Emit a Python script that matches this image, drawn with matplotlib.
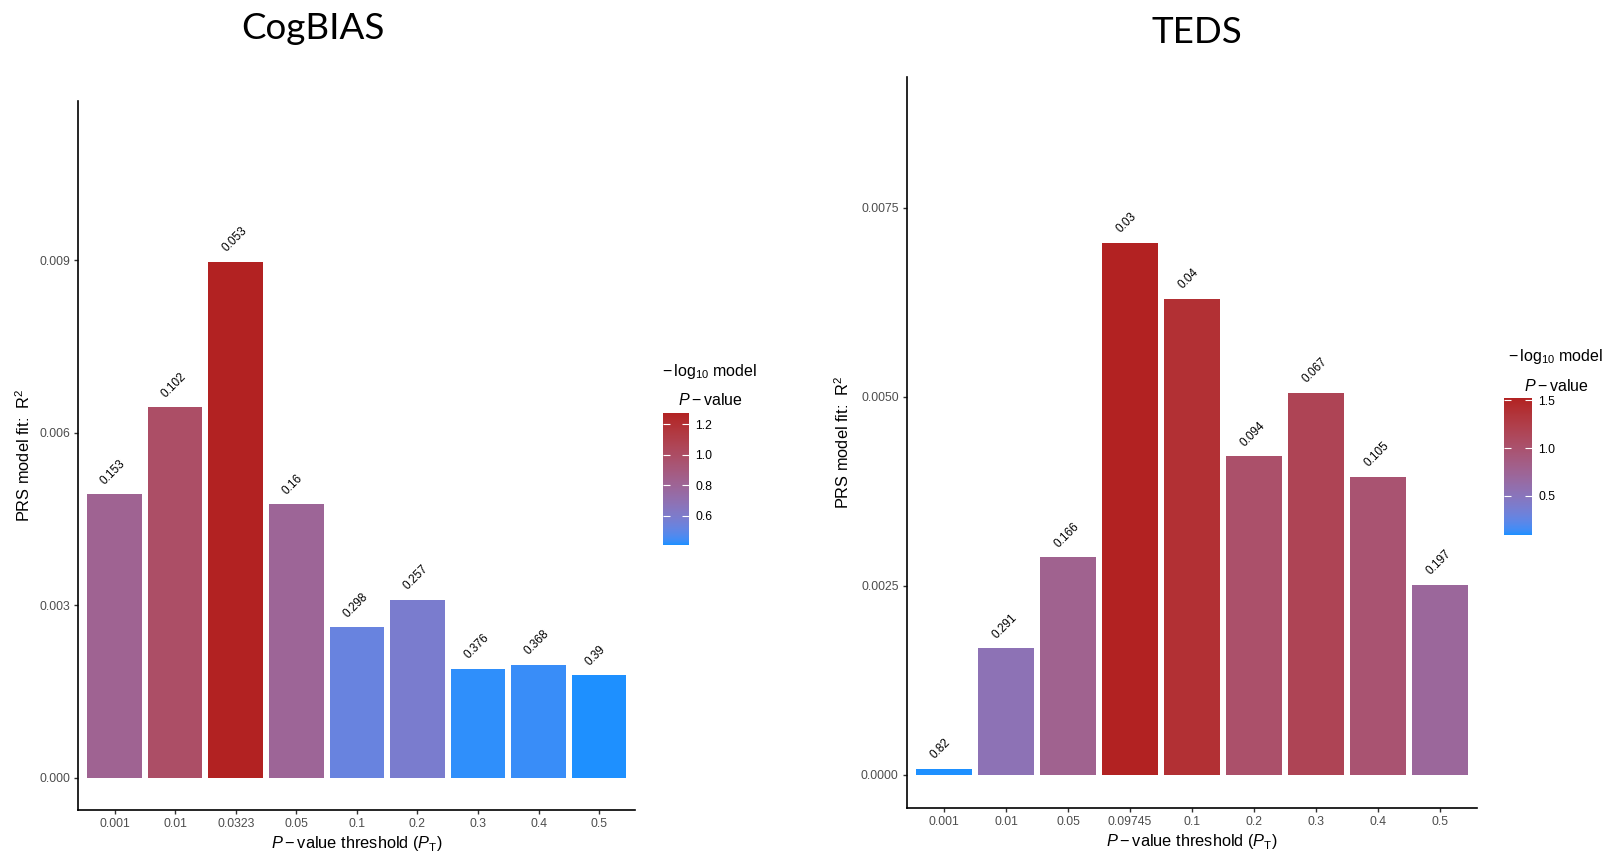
import numpy as np
import matplotlib
matplotlib.use("Agg")
import matplotlib.pyplot as plt
from matplotlib.colors import ListedColormap, Normalize, to_rgb
from matplotlib.cm import ScalarMappable
from matplotlib.ticker import FormatStrFormatter, FixedLocator

plt.rcParams['font.family'] = ['Liberation Sans', 'DejaVu Sans']
plt.rcParams['mathtext.fontset'] = 'custom'
plt.rcParams['mathtext.rm'] = 'Liberation Sans'
plt.rcParams['mathtext.it'] = 'Liberation Sans:italic'
plt.rcParams['mathtext.bf'] = 'Liberation Sans:bold'

# ---- data -------------------------------------------------------------
cog_thresholds = ["0.001", "0.01", "0.0323", "0.05", "0.1", "0.2", "0.3", "0.4", "0.5"]
cog_r2 = [0.004925, 0.006438, 0.008971, 0.004751, 0.002612, 0.003093, 0.001893, 0.001957, 0.001777]
cog_p = [0.153, 0.102, 0.053, 0.16, 0.298, 0.257, 0.376, 0.368, 0.39]

teds_thresholds = ["0.001", "0.01", "0.05", "0.09745", "0.1", "0.2", "0.3", "0.4", "0.5"]
teds_r2 = [0.00008, 0.001672, 0.002879, 0.007037, 0.006297, 0.004214, 0.005051, 0.003945, 0.00251]
teds_p = [0.82, 0.291, 0.166, 0.03, 0.04, 0.094, 0.067, 0.105, 0.197]

cog_yticks = [0.0, 0.003, 0.006, 0.009]
teds_yticks = [0.0, 0.0025, 0.005, 0.0075]
cog_cbar_ticks = [0.6, 0.8, 1.0, 1.2]
teds_cbar_ticks = [0.5, 1.0, 1.5]

LOW_COLOUR = "#1E90FF"   # dodgerblue
HIGH_COLOUR = "#B22222"  # firebrick

# ---- gradient interpolated in CIE Lab ----------------------------------
M = np.array([[0.4124564, 0.3575761, 0.1804375],
              [0.2126729, 0.7151522, 0.0721750],
              [0.0193339, 0.1191920, 0.9503041]])
WHITE = np.array([0.95047, 1.0, 1.08883])
EPS = 6 / 29


def to_lab(colour):
    rgb = np.array(to_rgb(colour))
    lin = np.where(rgb <= 0.04045, rgb / 12.92, ((rgb + 0.055) / 1.055) ** 2.4)
    xyz = (M @ lin) / WHITE
    f = np.where(xyz > EPS ** 3, np.cbrt(xyz), xyz / (3 * EPS ** 2) + 4 / 29)
    return np.array([116 * f[1] - 16, 500 * (f[0] - f[1]), 200 * (f[1] - f[2])])


def from_lab(lab):
    fy = (lab[:, 0] + 16) / 116
    fx = fy + lab[:, 1] / 500
    fz = fy - lab[:, 2] / 200
    f = np.stack([fx, fy, fz], axis=1)
    xyz = np.where(f > EPS, f ** 3, 3 * EPS ** 2 * (f - 4 / 29)) * WHITE
    lin = np.clip(xyz @ np.linalg.inv(M).T, 0, 1)
    rgb = np.where(lin <= 0.0031308, 12.92 * lin, 1.055 * lin ** (1 / 2.4) - 0.055)
    return np.clip(rgb, 0, 1)


t = np.linspace(0, 1, 256)[:, None]
lab_lo, lab_hi = to_lab(LOW_COLOUR), to_lab(HIGH_COLOUR)
cmap = ListedColormap(from_lab(lab_lo * (1 - t) + lab_hi * t))

# ---- figure -------------------------------------------------------------
W, H = 1612, 860
fig = plt.figure(figsize=(W / 100, H / 100), dpi=100)


def rect(x0, y0, x1, y1):
    return [x0 / W, 1 - y1 / H, (x1 - x0) / W, (y1 - y0) / H]


def panel(ax_rect, cax_rect, cats, r2, pvals, yticks, yfmt, cticks, ylabelpad,
          title, title_x, title_base, legend_x, legend_y1, legend_y2):
    ax = fig.add_axes(rect(*ax_rect))
    cax = fig.add_axes(rect(*cax_rect))

    x = np.arange(len(cats))
    r2 = np.asarray(r2)
    score = -np.log10(np.asarray(pvals))
    norm = Normalize(score.min(), score.max())
    ax.bar(x, r2, width=0.9, color=cmap(norm(score)), linewidth=0)

    for xi, yi, p in zip(x, r2, pvals):
        ax.annotate(f"{p:g}", (xi, yi), xytext=(-8.5, 8.5), textcoords="offset points",
                    ha="left", va="center", rotation=45, rotation_mode="anchor",
                    fontsize=8.5, color="black")

    top = r2.max() * 1.25
    pad = top * 0.05
    ax.set_ylim(-pad, top + pad)
    ax.set_xlim(-0.6, len(cats) - 0.4)
    ax.set_xticks(x)
    ax.set_xticklabels(cats)
    ax.yaxis.set_major_locator(FixedLocator(yticks))
    ax.yaxis.set_major_formatter(FormatStrFormatter(yfmt))

    for s in ("top", "right"):
        ax.spines[s].set_visible(False)
    for s in ("left", "bottom"):
        ax.spines[s].set_linewidth(1.2)
        ax.spines[s].set_color("black")
    ax.tick_params(axis="both", length=2.75, width=1.0, color="#333333",
                   labelsize=8.8, labelcolor="#4D4D4D", pad=3)

    ax.set_xlabel(r"$\mathit{P}-\mathrm{value\ threshold}\ \left(\mathit{P}_{\mathrm{T}}\right)$",
                  fontsize=11.8, labelpad=3)
    ax.set_ylabel(r"PRS model fit:  $\mathregular{R^2}$", fontsize=11.8, labelpad=ylabelpad)

    # colour bar
    sm = ScalarMappable(norm=norm, cmap=cmap)
    cb = fig.colorbar(sm, cax=cax)
    cb.outline.set_visible(False)
    cb.set_ticks(cticks)
    cb.set_ticklabels([f"{v:.1f}" for v in cticks])
    cax.tick_params(axis="y", direction="in", length=5, width=0.8, color="white",
                    left=True, right=True, labelleft=False, labelright=True,
                    labelsize=8.8, labelcolor="black", pad=4.5)

    fig.text(legend_x / W, 1 - legend_y1 / H, r"$-\,\mathrm{log}_{10}\ \mathrm{model}$",
             ha="center", va="center", fontsize=11.5)
    fig.text(legend_x / W, 1 - legend_y2 / H, r"$\mathit{P}-\mathrm{value}$",
             ha="center", va="center", fontsize=11.5)

    fig.text(title_x / W, 1 - title_base / H, title, ha="center", va="baseline",
             fontsize=26.5, family=["Lato", "DejaVu Sans"])


panel((78.3, 100.5, 635.4, 809.8), (662.7, 412.7, 689.3, 545.0),
      cog_thresholds, cog_r2, cog_p, cog_yticks, "%.3f", cog_cbar_ticks, 4.5,
      "CogBIAS", 313, 39.3, 710, 371.7, 400)

panel((906.7, 76.6, 1477.4, 808.1), (1504.3, 398.3, 1532.3, 535.0),
      teds_thresholds, teds_r2, teds_p, teds_yticks, "%.4f", teds_cbar_ticks, 6.5,
      "TEDS", 1196.7, 42.7, 1556, 356.7, 385.7)

fig.savefig("out.png", dpi=100, facecolor="white")
